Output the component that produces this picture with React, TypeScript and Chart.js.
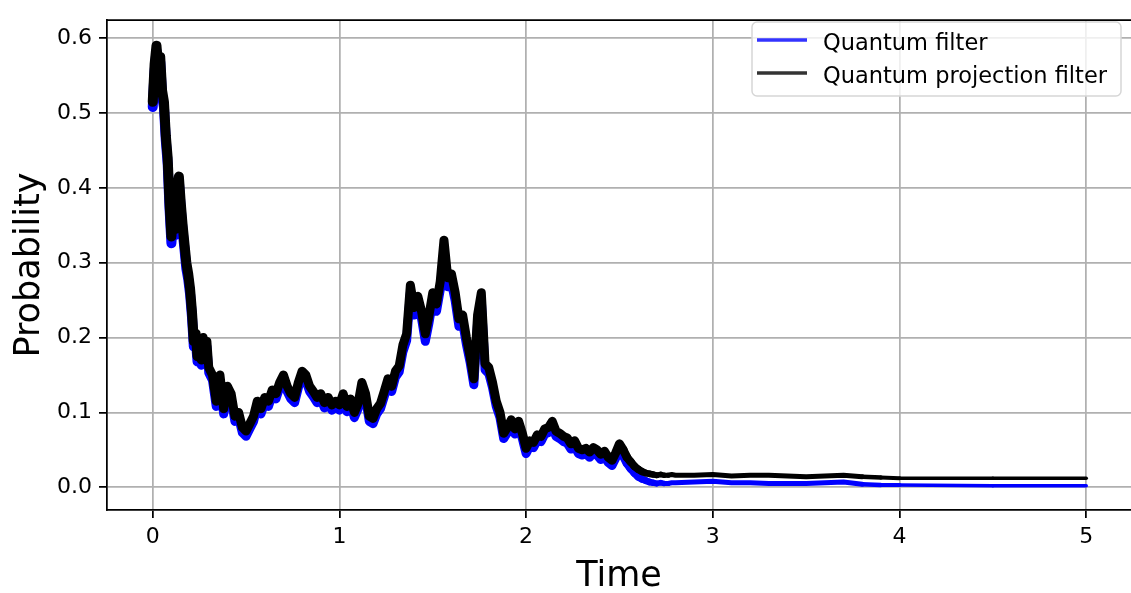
import React, { useEffect, useRef } from "react";
import { Chart, registerables } from "chart.js";

Chart.register(...registerables);

// Time grid (s)
const times: number[] = [
  0.0, 0.01, 0.02, 0.03, 0.04, 0.05, 0.06, 0.07, 0.08, 0.09,
  0.1, 0.11, 0.12, 0.13, 0.14, 0.15, 0.16, 0.17, 0.18, 0.19,
  0.2, 0.21, 0.22, 0.23, 0.24, 0.25, 0.26, 0.27, 0.28, 0.29,
  0.3,
  0.32, 0.34, 0.36, 0.38, 0.4, 0.42, 0.44, 0.46, 0.48, 0.5,
  0.52, 0.54, 0.56, 0.58, 0.6, 0.62, 0.64, 0.66, 0.68, 0.7,
  0.72, 0.74, 0.76, 0.78, 0.8, 0.82, 0.84, 0.86, 0.88, 0.9,
  0.92, 0.94, 0.96, 0.98, 1.0, 1.02, 1.04, 1.06, 1.08, 1.1,
  1.12, 1.14, 1.16, 1.18, 1.2, 1.22, 1.24, 1.26, 1.28, 1.3,
  1.32, 1.34, 1.36, 1.38, 1.4, 1.42, 1.44, 1.46, 1.48, 1.5,
  1.52, 1.54, 1.56, 1.58, 1.6, 1.62, 1.64, 1.66, 1.68, 1.7,
  1.72, 1.74, 1.76, 1.78, 1.8, 1.82, 1.84, 1.86, 1.88, 1.9,
  1.92, 1.94, 1.96, 1.98, 2.0, 2.02, 2.04, 2.06, 2.08, 2.1,
  2.12, 2.14, 2.16, 2.18, 2.2, 2.22, 2.24, 2.26, 2.28, 2.3,
  2.32, 2.34, 2.36, 2.38, 2.4, 2.42, 2.44, 2.46, 2.48, 2.5,
  2.52, 2.54, 2.56, 2.58, 2.6, 2.62, 2.64, 2.66, 2.68, 2.7,
  2.72, 2.74, 2.76, 2.78, 2.8,
  2.9, 3.0, 3.1, 3.2, 3.3, 3.4, 3.5, 3.6, 3.7, 3.8,
  3.9, 4.0, 4.5, 5.0,
];

// Quantum filter (blue)
const quantumFilter: number[] = [
  0.508, 0.556, 0.583, 0.552, 0.568, 0.522, 0.508, 0.463, 0.432, 0.372,
  0.326, 0.362, 0.337, 0.393, 0.408, 0.372, 0.343, 0.318, 0.292, 0.278,
  0.258, 0.228, 0.188, 0.198, 0.168, 0.183, 0.163, 0.193, 0.178, 0.188,
  0.153,
  0.143, 0.108, 0.143, 0.098, 0.128, 0.118, 0.088, 0.093, 0.073, 0.068,
  0.078, 0.088, 0.108, 0.098, 0.113, 0.108, 0.123, 0.118, 0.133, 0.143,
  0.128, 0.118, 0.113, 0.133, 0.148, 0.143, 0.128, 0.121, 0.113, 0.118,
  0.106, 0.113, 0.103, 0.108, 0.103, 0.118, 0.101, 0.111, 0.093, 0.105,
  0.133, 0.118, 0.088, 0.085, 0.098, 0.105, 0.121, 0.138, 0.128, 0.147,
  0.154, 0.181, 0.196, 0.26, 0.23, 0.245, 0.225, 0.195, 0.22, 0.25,
  0.235, 0.264, 0.318, 0.268, 0.273, 0.249, 0.215, 0.22, 0.191, 0.167,
  0.137, 0.22, 0.25, 0.157, 0.152, 0.133, 0.108, 0.093, 0.065, 0.073,
  0.083, 0.071, 0.081, 0.065, 0.045, 0.055, 0.053, 0.063, 0.061, 0.071,
  0.073, 0.081, 0.068, 0.065, 0.061, 0.059, 0.051, 0.055, 0.045, 0.043,
  0.045, 0.04, 0.046, 0.043, 0.037, 0.041, 0.033, 0.029, 0.039, 0.051,
  0.042, 0.032, 0.025, 0.019, 0.014, 0.011, 0.009, 0.007, 0.006, 0.005,
  0.006, 0.005, 0.005, 0.006, 0.006,
  0.007, 0.008, 0.006, 0.006, 0.005, 0.005, 0.005, 0.006, 0.007, 0.004,
  0.003, 0.003, 0.002, 0.002,
];

// Quantum projection filter (black)
const projectionFilter: number[] = [
  0.515, 0.565, 0.59, 0.56, 0.575, 0.53, 0.515, 0.47, 0.44, 0.38,
  0.335, 0.37, 0.345, 0.4, 0.415, 0.38, 0.35, 0.325, 0.3, 0.285,
  0.265, 0.235, 0.195, 0.205, 0.175, 0.19, 0.17, 0.2, 0.185, 0.195,
  0.16,
  0.15, 0.115, 0.15, 0.105, 0.135, 0.125, 0.095, 0.1, 0.08, 0.075,
  0.085, 0.095, 0.115, 0.105, 0.12, 0.115, 0.13, 0.125, 0.14, 0.15,
  0.135, 0.125, 0.12, 0.14, 0.155, 0.15, 0.135, 0.128, 0.12, 0.125,
  0.113, 0.12, 0.11, 0.115, 0.11, 0.125, 0.108, 0.118, 0.1, 0.112,
  0.14, 0.125, 0.095, 0.092, 0.105, 0.112, 0.128, 0.145, 0.135, 0.155,
  0.162, 0.19, 0.205, 0.27, 0.24, 0.255, 0.235, 0.205, 0.23, 0.26,
  0.245, 0.275, 0.33, 0.28, 0.285, 0.26, 0.225, 0.23, 0.2, 0.175,
  0.145, 0.23, 0.26, 0.165, 0.16, 0.14, 0.115, 0.1, 0.072, 0.08,
  0.09, 0.078, 0.088, 0.072, 0.052, 0.062, 0.06, 0.07, 0.068, 0.078,
  0.08, 0.088, 0.075, 0.072, 0.068, 0.066, 0.058, 0.062, 0.052, 0.05,
  0.052, 0.047, 0.053, 0.05, 0.044, 0.048, 0.04, 0.036, 0.046, 0.058,
  0.05, 0.04, 0.034, 0.028, 0.024, 0.021, 0.019, 0.018, 0.017, 0.016,
  0.017, 0.016, 0.016, 0.017, 0.016,
  0.016, 0.017, 0.015, 0.016, 0.016, 0.015, 0.014, 0.015, 0.016, 0.014,
  0.013, 0.012, 0.012, 0.012,
];

const xTicks: number[] = [0, 1, 2, 3, 4, 5];
const yTicks: number[] = [0, 0.1, 0.2, 0.3, 0.4, 0.5, 0.6];
const seriesNames: string[] = ["Quantum filter", "Quantum projection filter"];
const seriesColors: string[] = ["#0000ff", "#000000"];

const FONT = '"DejaVu Sans", "Liberation Sans", sans-serif';

// stroke width of the dense, noisy trace as a function of time (style only)
const lerp = (a: number, b: number, f: number) => a + (b - a) * Math.min(1, Math.max(0, f));
const traceWidth = (t: number) => {
  if (t < 0.25) return 10;
  if (t < 2.5) return 9;
  if (t < 2.75) return lerp(9, 5, (t - 2.5) / 0.25);
  if (t < 3.7) return 5;
  return lerp(5, 3.6, (t - 3.7) / 0.3);
};

const decorPlugin = {
  id: "decor",
  afterDraw(chart: any) {
    const { ctx, chartArea: a } = chart;
    ctx.save();
    // top spine
    ctx.strokeStyle = "#000";
    ctx.lineWidth = 1.75;
    ctx.beginPath();
    ctx.moveTo(a.left - 0.9, a.top);
    ctx.lineTo(a.right, a.top);
    ctx.stroke();

    // axis titles
    ctx.fillStyle = "#000";
    ctx.font = `35px ${FONT}`;
    ctx.textAlign = "center";
    ctx.textBaseline = "alphabetic";
    ctx.fillText("Time", (a.left + a.right) / 2, 586);
    ctx.save();
    ctx.translate(38.5, 265);
    ctx.rotate(-Math.PI / 2);
    ctx.fillText("Probability", 0, 0);
    ctx.restore();

    // legend
    const bx = 752, by = 22, bw = 369, bh = 74, r = 5;
    ctx.beginPath();
    ctx.moveTo(bx + r, by);
    ctx.lineTo(bx + bw - r, by);
    ctx.arcTo(bx + bw, by, bx + bw, by + r, r);
    ctx.lineTo(bx + bw, by + bh - r);
    ctx.arcTo(bx + bw, by + bh, bx + bw - r, by + bh, r);
    ctx.lineTo(bx + r, by + bh);
    ctx.arcTo(bx, by + bh, bx, by + bh - r, r);
    ctx.lineTo(bx, by + r);
    ctx.arcTo(bx, by, bx + r, by, r);
    ctx.closePath();
    ctx.fillStyle = "rgba(255,255,255,0.8)";
    ctx.fill();
    ctx.strokeStyle = "#d6d6d6";
    ctx.lineWidth = 1.5;
    ctx.stroke();

    const rows = [40, 73];
    ctx.font = `22.5px ${FONT}`;
    ctx.textAlign = "left";
    ctx.textBaseline = "alphabetic";
    rows.forEach((ry, i) => {
      ctx.strokeStyle = seriesColors[i];
      ctx.globalAlpha = 0.8;
      ctx.lineWidth = 3.3;
      ctx.lineCap = "butt";
      ctx.beginPath();
      ctx.moveTo(757, ry);
      ctx.lineTo(807, ry);
      ctx.stroke();
      ctx.globalAlpha = 1;
      ctx.fillStyle = "#000";
      ctx.fillText(seriesNames[i], 823, ry + 9.5);
    });
    ctx.restore();
  },
};

export default function App() {
  const ref = useRef<HTMLCanvasElement | null>(null);

  useEffect(() => {
    if (!ref.current) return;
    const mk = (vals: number[]) => times.map((t, i) => ({ x: t, y: vals[i] }));
    const seg = {
      borderWidth: (c: any) => traceWidth(c.p0.parsed.x),
    };
    const chart = new Chart(ref.current, {
      type: "line",
      data: {
        datasets: [
          {
            label: seriesNames[1],
            data: mk(projectionFilter),
            borderColor: seriesColors[1],
            borderWidth: 3.6,
            pointRadius: 0,
            tension: 0,
            borderJoinStyle: "round",
            borderCapStyle: "round",
            segment: seg,
            order: 1,
          },
          {
            label: seriesNames[0],
            data: mk(quantumFilter),
            borderColor: seriesColors[0],
            borderWidth: 3.6,
            pointRadius: 0,
            tension: 0,
            borderJoinStyle: "round",
            borderCapStyle: "round",
            segment: seg,
            order: 2,
          },
        ],
      },
      options: {
        animation: false,
        responsive: false,
        devicePixelRatio: 1,
        layout: { padding: { top: 9, right: 0, left: 0, bottom: 0 } },
        plugins: {
          legend: { display: false },
          tooltip: { enabled: false },
          title: { display: false },
        },
        scales: {
          x: {
            type: "linear",
            min: -0.245,
            max: 5.24,
            afterBuildTicks: (s: any) => {
              s.ticks = xTicks.map((v) => ({ value: v }));
            },
            afterFit: (s: any) => {
              s.height = 83;
            },
            ticks: {
              autoSkip: false,
              maxRotation: 0,
              padding: 6,
              color: "#000",
              font: { family: FONT, size: 22 },
              callback: (v: any) => String(v),
            },
            grid: {
              color: "#b0b0b0",
              lineWidth: 1.75,
              tickLength: 8,
              tickColor: "#000",
              tickWidth: 1.75,
            },
            border: { display: true, color: "#000", width: 1.75 },
          },
          y: {
            type: "linear",
            min: -0.0304,
            max: 0.624,
            afterBuildTicks: (s: any) => {
              s.ticks = yTicks.map((v) => ({ value: v }));
            },
            afterFit: (s: any) => {
              s.width = 107;
            },
            ticks: {
              autoSkip: false,
              padding: 7,
              color: "#000",
              font: { family: FONT, size: 22 },
              callback: (v: any) => Number(v).toFixed(1),
            },
            grid: {
              color: "#b0b0b0",
              lineWidth: 1.75,
              tickLength: 8,
              tickColor: "#000",
              tickWidth: 1.75,
            },
            border: { display: true, color: "#000", width: 1.75 },
          },
        },
      },
      plugins: [decorPlugin],
    });
    return () => chart.destroy();
  }, []);

  return (
    <div
      style={{
        position: "fixed",
        left: 0,
        top: 0,
        width: 1131,
        height: 593,
        background: "#fff",
        overflow: "hidden",
      }}
    >
      <canvas ref={ref} width={1131} height={593} style={{ display: "block" }} />
    </div>
  );
}
